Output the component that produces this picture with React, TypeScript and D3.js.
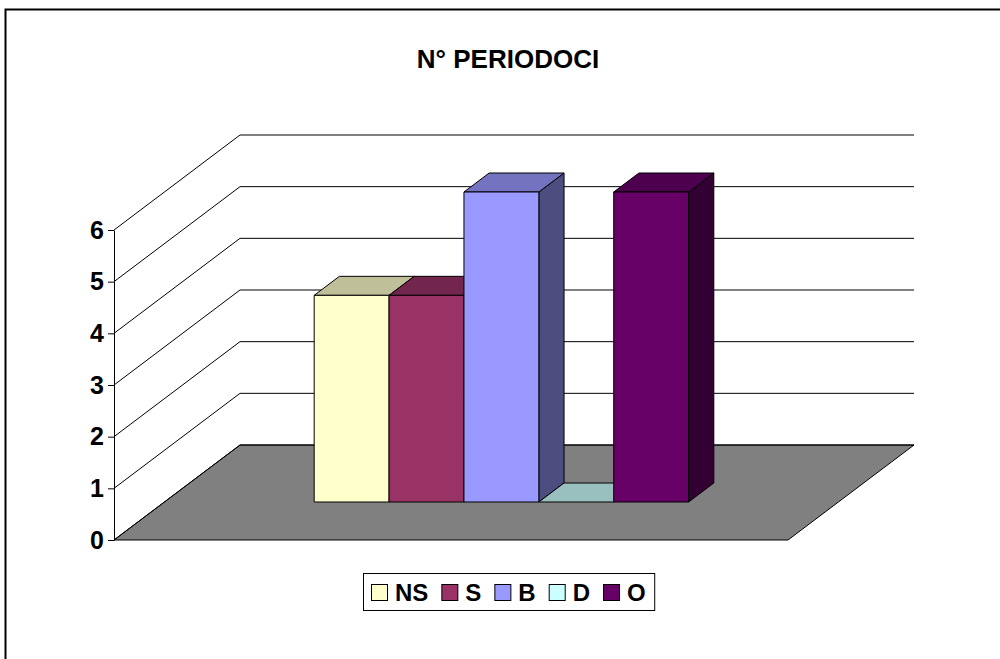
import React, { useEffect, useRef } from 'react';
import * as d3 from 'd3';

const categories = ['NS', 'S', 'B', 'D', 'O'];
const values = [4, 4, 6, 0, 6];
const colors = ['#FFFFCC', '#993366', '#9999FF', '#CCFFFF', '#660066'];
const yTicks = [0, 1, 2, 3, 4, 5, 6];
const title = 'N° PERIODOCI';

const W = 1000;
const H = 659;
const FONT = '"Liberation Sans", Arial, sans-serif';

// floor / projection
const x0 = 114; // front-left corner of floor
const floorW = 674;
const depthX = 126;
const depthY = -95;
const zFront = 0.4;
const zBack = 0.6;

function shade(c: string, k: number) {
	const r = d3.rgb(c);
	return d3.rgb(r.r * k, r.g * k, r.b * k).formatHex();
}

export default function App() {
	const ref = useRef<SVGSVGElement>(null);

	useEffect(() => {
		const svg = d3.select(ref.current);
		svg.selectAll('*').remove();

		var yScale = d3.scaleLinear().domain([0, 6]).range([540, 230]);
		var xScale = d3
			.scaleBand()
			.domain(categories)
			.range([0, floorW])
			.paddingInner(0)
			.paddingOuter(2);

		const proj = (x: number, v: number, z: number): [number, number] => [
			x0 + x + depthX * z,
			yScale(v) + depthY * z
		];
		const poly = (pts: [number, number][]) => pts.map(p => p.join(',')).join(' ');

		// outer chart border
		svg
			.append('rect')
			.attr('x', 5.5)
			.attr('y', 9.5)
			.attr('width', W + 20)
			.attr('height', H + 20)
			.attr('fill', 'white')
			.attr('stroke', '#000')
			.attr('stroke-width', 2);

		// title
		svg
			.append('text')
			.attr('x', 508)
			.attr('y', 68)
			.attr('text-anchor', 'middle')
			.attr('font-family', FONT)
			.attr('font-weight', 'bold')
			.attr('font-size', 26)
			.text(title);

		// floor
		svg
			.append('polygon')
			.attr('points', poly([proj(0, 0, 0), proj(0, 0, 1), proj(floorW, 0, 1), proj(floorW, 0, 0)]))
			.attr('fill', '#808080')
			.attr('stroke', '#000')
			.attr('stroke-width', 1);

		// gridlines: left wall diagonal + back wall horizontal
		const grid = svg.append('g').attr('stroke', '#000').attr('stroke-width', 1).attr('fill', 'none');
		yTicks.forEach(t => {
			const a = proj(0, t, 0);
			const b = proj(0, t, 1);
			const c = proj(floorW, t, 1);
			grid.append('polyline').attr('points', poly([a, b, c]));
		});

		// axis
		const axis = d3
			.axisLeft(yScale)
			.tickValues(yTicks)
			.tickFormat(d3.format('d'))
			.tickSize(6)
			.tickSizeOuter(0)
			.tickPadding(4);
		const gAxis = svg.append('g').attr('transform', `translate(${x0},0)`).call(axis);
		gAxis.select('.domain').attr('stroke', '#000');
		gAxis.selectAll('.tick line').attr('stroke', '#000');
		gAxis
			.selectAll('.tick text')
			.attr('font-family', FONT)
			.attr('font-weight', 'bold')
			.attr('font-size', 25)
			.attr('fill', '#000');

		// bars, left to right
		const bars = svg.append('g').attr('stroke', '#000').attr('stroke-width', 1).attr('stroke-linejoin', 'round');
		categories.forEach((cat, i) => {
			const v = values[i];
			const xl = xScale(cat) as number;
			const xr = xl + xScale.bandwidth();
			const col = colors[i];
			// right side
			if (v > 0) {
				bars
					.append('polygon')
					.attr('points', poly([proj(xr, 0, zFront), proj(xr, 0, zBack), proj(xr, v, zBack), proj(xr, v, zFront)]))
					.attr('fill', shade(col, 0.5));
			}
			// top
			bars
				.append('polygon')
				.attr('points', poly([proj(xl, v, zFront), proj(xl, v, zBack), proj(xr, v, zBack), proj(xr, v, zFront)]))
				.attr('fill', shade(col, 0.75));
			// front
			if (v > 0) {
				bars
					.append('polygon')
					.attr('points', poly([proj(xl, 0, zFront), proj(xl, v, zFront), proj(xr, v, zFront), proj(xr, 0, zFront)]))
					.attr('fill', col);
			}
		});

		// legend
		const leg = svg.append('g');
		const box = leg
			.append('rect')
			.attr('fill', 'white')
			.attr('stroke', '#000')
			.attr('stroke-width', 1);
		let cx = 371;
		categories.forEach((cat, i) => {
			leg
				.append('rect')
				.attr('x', cx + 0.5)
				.attr('y', 584.5)
				.attr('width', 16)
				.attr('height', 16)
				.attr('fill', colors[i])
				.attr('stroke', '#000');
			const t = leg
				.append('text')
				.attr('x', cx + 24)
				.attr('y', 601)
				.attr('font-family', FONT)
				.attr('font-weight', 'bold')
				.attr('font-size', 24)
				.text(cat);
			const w = (t.node() as SVGTextElement).getComputedTextLength();
			cx = cx + 24 + w + 13;
		});
		box
			.attr('x', 363.5)
			.attr('y', 573.5)
			.attr('width', cx - 13 + 9 - 363.5)
			.attr('height', 37);
	}, []);

	return (
		<svg
			ref={ref}
			width={W}
			height={H}
			style={{ position: 'absolute', left: 0, top: 0, background: 'white' }}
		/>
	);
}
